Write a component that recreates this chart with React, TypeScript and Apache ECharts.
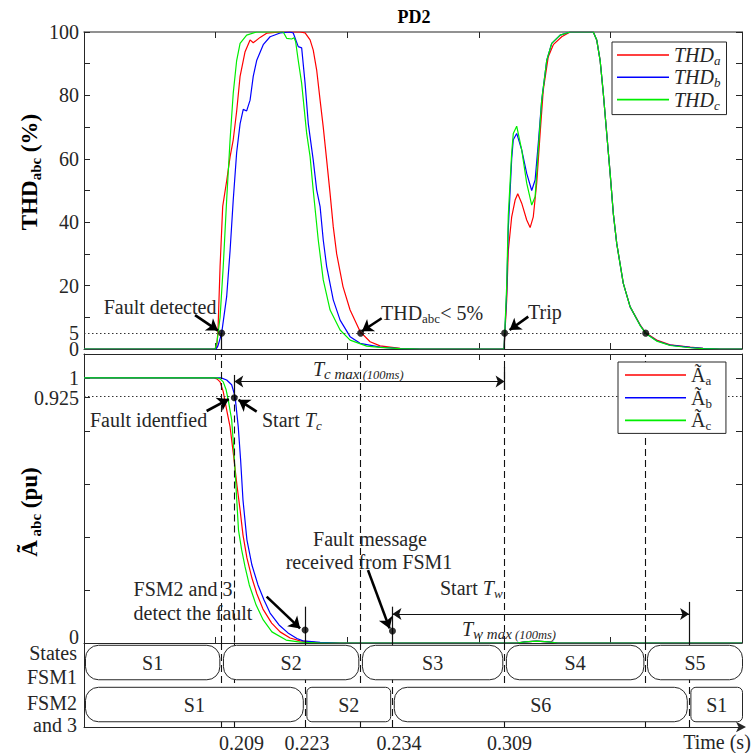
import React, { useEffect, useRef } from 'react';
import * as echarts from 'echarts';

type P = [number, number];

const FONT = '"Liberation Serif", "Times New Roman", Times, serif';
const INK = '#262626';

// drawing time axis (ms)
const timeMin = 150;
const timeMax = 400;
const timeStep = 50;

// THD (%) of the three phases
const thdA: P[] = [
  [150, 0], [199.4, 0], [200.4, 0.5], [200.9, 5.7], [201.7, 26], [202.7, 45], [204.2, 53], [205.5, 60.6],
  [206.7, 66], [208.0, 75], [209.3, 86], [211.2, 93.8], [213.1, 97.5], [214.3, 96.6], [216.9, 98.3],
  [219.4, 99.6], [224.5, 100], [232.1, 100], [234.0, 99.7], [235.9, 97.5], [237.1, 94.3], [238.4, 88],
  [239.7, 78.5], [240.9, 70], [242.2, 59.6], [243.5, 49], [244.7, 38.6], [246.0, 30], [248.4, 19.7],
  [251.1, 12.3], [254.9, 5.5], [258.7, 2.3], [262.5, 1.0], [270.1, 0.2], [277.7, 0], [309.6, 0],
  [310.6, 15.5], [311.2, 31], [312.5, 41.7], [313.8, 47], [314.8, 49], [316.3, 46], [318.2, 40.7],
  [319.5, 38.3], [320.7, 41.7], [322.0, 52.3], [323.3, 68], [324.5, 81.7], [326.4, 92.2], [328.3, 96],
  [331.5, 98.5], [334.7, 100], [343.5, 100], [344.8, 97.5], [346.1, 91], [347.3, 80.7], [348.6, 68],
  [349.9, 55.4], [351.1, 42.8], [352.4, 33.3], [354.9, 20.7], [357.5, 13.3], [361.3, 7.6], [363.4, 5.1],
  [367.6, 2.8], [372.7, 1.3], [380.3, 0.6], [385.2, 0.2], [391.7, 0], [400, 0],
];
const thdB: P[] = [
  [150, 0], [200.2, 0], [200.9, 1], [202.3, 5], [204.2, 16.5], [205.5, 31], [206.7, 47], [208.0, 62],
  [209.3, 71], [210.5, 75.6], [211.8, 75.1], [213.1, 78.5], [214.3, 86], [215.6, 91], [218.1, 96],
  [220.7, 98.5], [224.5, 99.7], [228.3, 100], [229.5, 99.7], [231.4, 95.4], [232.7, 95], [234.0, 83.8],
  [235.2, 71.2], [237.1, 59.6], [238.4, 50.2], [239.7, 44.9], [240.9, 34.4], [242.2, 26], [244.7, 15.5],
  [247.3, 9.1], [251.1, 3.9], [254.9, 1.8], [262.5, 0.6], [270.1, 0.1], [277.7, 0], [309.6, 0],
  [310.6, 18], [311.2, 38], [312.5, 60], [313.1, 66], [314.4, 68], [316.3, 62.8], [318.2, 55.4],
  [320.1, 50], [321.4, 53.3], [322.6, 64.9], [323.9, 78.5], [325.8, 91], [327.7, 96.4], [330.9, 99],
  [334.7, 100], [343.5, 100], [344.8, 97.5], [346.1, 91], [347.3, 80.7], [348.6, 68], [349.9, 55.4],
  [351.1, 42.8], [352.4, 33.3], [354.9, 20.7], [357.5, 13.3], [361.3, 7.5], [363.4, 5.0], [367.6, 2.6],
  [372.7, 1.2], [380.3, 0.5], [385.2, 0.2], [391.7, 0], [400, 0],
];
const thdC: P[] = [
  [150, 0], [199.8, 0], [200.5, 2], [201.7, 10], [202.9, 26], [204.2, 47], [205.5, 66], [206.7, 80.7],
  [208.0, 91], [209.3, 96.4], [211.8, 99], [215.6, 100], [225.7, 100], [227.0, 98], [228.9, 97.8],
  [229.8, 98.2], [230.4, 97], [231.4, 91], [232.7, 83.8], [234.6, 68], [235.9, 60.7], [237.1, 50],
  [239.0, 34.4], [240.9, 21.8], [243.5, 12.3], [247.3, 6], [251.1, 2.8], [257.4, 0.9], [262.5, 0.5],
  [270.1, 0.1], [277.7, 0], [309.6, 0], [310.6, 20], [311.2, 42], [312.5, 62], [313.1, 68], [314.4, 70.3],
  [316.3, 62.8], [318.2, 52.3], [320.1, 45.4], [321.4, 48], [322.6, 62.8], [323.9, 78.5], [325.8, 91],
  [327.7, 96.4], [330.9, 99], [334.7, 100], [343.5, 100], [344.8, 97.5], [346.1, 91], [347.3, 80.7],
  [348.6, 68], [349.9, 55.4], [351.1, 42.8], [352.4, 33.3], [354.9, 20.7], [357.5, 13.3], [361.3, 7.4],
  [363.4, 4.9], [367.6, 2.5], [372.7, 1.1], [380.3, 0.4], [385.2, 0.1], [391.7, 0], [400, 0],
];

// amplitude (pu) of the three phases
const ampA: P[] = [
  [150, 1], [199.4, 1], [200.5, 0.996], [201.7, 0.985], [202.9, 0.948], [204.2, 0.879], [205.5, 0.815],
  [206.8, 0.709], [208.1, 0.596], [209.3, 0.502], [210.4, 0.408], [211.9, 0.321], [213.8, 0.245],
  [215.7, 0.185], [218.0, 0.128], [221.3, 0.075], [224.5, 0.042], [228.3, 0.019], [232.1, 0.008],
  [237.8, 0.002], [247.3, 0], [314.4, 0], [317.6, 0.004], [322.0, 0.007], [326.4, 0.004], [330, 0], [400, 0],
];
const ampB: P[] = [
  [150, 1], [202.1, 1], [204.2, 0.992], [206.1, 0.974], [207.4, 0.929], [208.6, 0.816], [209.5, 0.691],
  [210.4, 0.540], [211.9, 0.389], [213.8, 0.294], [216.1, 0.219], [218.4, 0.162], [220.7, 0.113],
  [224.1, 0.068], [227.5, 0.038], [230.9, 0.017], [233.2, 0.008], [239.7, 0.002], [247.3, 0],
  [314.4, 0], [317.6, 0.004], [322.0, 0.007], [326.4, 0.004], [330, 0], [400, 0],
];
const ampC: P[] = [
  [150, 1], [200.5, 1], [201.7, 0.996], [202.9, 0.985], [204.0, 0.955], [204.8, 0.917], [206.1, 0.842],
  [206.8, 0.747], [207.6, 0.615], [208.7, 0.426], [209.9, 0.351], [211.2, 0.287], [212.8, 0.219],
  [215.4, 0.143], [218.1, 0.087], [221.4, 0.042], [226.8, 0.011], [232.1, 0.003], [239.7, 0],
  [314.4, 0], [317.6, 0.004], [322.0, 0.007], [326.4, 0.004], [330, 0], [400, 0],
];

const thdLabelValues = [0, 20, 40, 60, 80, 100];
const thdExtraLabelValues = [5];
const ampLabelValues = [0, 0.925, 1];
const ampTickValues = [0, 0.2, 0.4, 0.6, 0.8, 0.925, 1];
const ampRightTicks = [0, 0.2, 0.4, 0.6, 0.8, 1];
const thdThreshold = 5;
const ampThreshold = 0.925;

// event instants (ms on drawing axis)
const tFaultDetected = 202.3;
const tStartTc = 207.1;
const tFsm23Detect = 234.0;
const tThdLow = 255.1;
const tFaultMsg = 267.2;
const tTrip = 309.8;
const tThdLow2 = 363.4;
const tTwEnd = 379.9;

// bottom time labels
const timeLabelPos = [209.8, 234.7, 269.7, 311.7];
const timeLabelText = ['0.209', '0.223', '0.234', '0.309'];

// state machines
const fsm1Bounds = [150, tFaultDetected, tThdLow, tTrip, tThdLow2, 400];
const fsm1Labels = ['S1', 'S2', 'S3', 'S4', 'S5'];
const fsm2Bounds = [150, tFsm23Detect, tFaultMsg, tTwEnd, 400];
const fsm2Labels = ['S1', 'S2', 'S6', 'S1'];

// annotation levels
const tcArrowLevel = 0.986;
const twArrowLevel = 0.109;

function buildStates() {
  const data: number[][] = [];
  const labels: string[] = [];
  fsm1Labels.forEach((l, i) => { data.push([fsm1Bounds[i], fsm1Bounds[i + 1], 0]); labels.push(l); });
  fsm2Labels.forEach((l, i) => { data.push([fsm2Bounds[i], fsm2Bounds[i + 1], 1]); labels.push(l); });
  return { data, labels };
}

const axisLine = { show: true, onZero: false, lineStyle: { color: INK, width: 1 } };
const tickIn = { show: true, inside: true, length: 6, lineStyle: { color: INK, width: 1 } };
const labelFont = { fontFamily: FONT, fontSize: 20, color: INK };
const tightLabel = { fontFamily: FONT, fontSize: 20, color: INK, lineHeight: 12 };

function xAx(gridIndex: number, position: string, extra: any = {}) {
  return {
    gridIndex, type: 'value', min: timeMin, max: timeMax, interval: timeStep, position,
    axisLine, axisTick: tickIn, axisLabel: { show: false }, splitLine: { show: false }, ...extra,
  };
}

function ml(name: string, xi: number, yi: number, data: any[], lineStyle: any, extra: any = {}) {
  return {
    type: 'line', name, xAxisIndex: xi, yAxisIndex: yi, data: [], silent: true, z: 3,
    markLine: {
      silent: true, symbol: 'none', label: { show: false }, animation: false,
      emphasis: { disabled: true }, lineStyle, data, ...extra,
    },
  };
}

const dashed = { type: [7, 4], color: '#111', width: 1.1 };
const dotted = { type: [1.5, 2.5], color: '#333', width: 1 };
const solid = { type: 'solid', color: '#111', width: 1.2 };
const arrowThick = { type: 'solid', color: '#000', width: 2.6 };
const seg = (x: number, y1: number, y2: number) => [{ coord: [x, y1] }, { coord: [x, y2] }];
const arr = (x1: number, y1: number, x2: number, y2: number) => [{ coord: [x1, y1] }, { coord: [x2, y2] }];

function sub(size: number, extra: any = {}) {
  return { fontFamily: FONT, fontSize: size, fill: INK, verticalAlign: 'bottom', lineHeight: 10, ...extra };
}
function norm(size: number, extra: any = {}) {
  return { fontFamily: FONT, fontSize: size, fill: INK, lineHeight: 24, ...extra };
}

function txt(x: number, y: number, text: string, align = 'center', rich: any = null, extra: any = {}) {
  return {
    type: 'text', x, y, z: 50, silent: true, ...extra,
    style: {
      text, fill: INK, fontFamily: FONT, fontSize: 20,
      align, verticalAlign: 'middle', textAlign: align, textVerticalAlign: 'middle',
      ...(rich ? { rich } : {}),
    },
  };
}

export default function App() {
  const ref = useRef<HTMLDivElement>(null);
  useEffect(() => {
    if (!ref.current) return;
    const chart = echarts.init(ref.current, null, { renderer: 'svg' });
    const states = buildStates();
    const lineSeries = (name: string, data: P[], color: string, xi: number, yi: number) => ({
      type: 'line', name, data, xAxisIndex: xi, yAxisIndex: yi, symbol: 'none', showSymbol: false,
      lineStyle: { color, width: 1.2 }, itemStyle: { color }, z: 4, silent: true,
    });

    const option: any = {
      animation: false,
      backgroundColor: '#fff',
      grid: [
        { left: 84, right: 9, top: 32, height: 317, outerBoundsMode: 'none' },
        { left: 84, right: 9, top: 354, height: 289, outerBoundsMode: 'none' },
        { left: 84, right: 9, top: 643, height: 84, outerBoundsMode: 'none' },
      ],
      xAxis: [
        xAx(0, 'bottom'),
        xAx(0, 'top', { axisLine: { show: true, onZero: false, lineStyle: { color: '#6e6e6e', width: 1.5 } } }),
        xAx(1, 'bottom'),
        xAx(1, 'top'),
        {
          gridIndex: 2, type: 'value', min: timeMin, max: timeMax, position: 'bottom',
          axisLine: { show: true, onZero: false, symbol: ['none', 'arrow'], symbolSize: [8, 10], symbolOffset: [0, 4], lineStyle: { color: INK, width: 1 } },
          axisTick: { show: false }, splitLine: { show: false },
          axisLabel: {
            show: true, customValues: timeLabelPos, margin: 6, showMinLabel: true, showMaxLabel: true, ...labelFont,
            formatter: (v: number) => {
              let best = 0;
              timeLabelPos.forEach((p, i) => { if (Math.abs(p - v) < Math.abs(timeLabelPos[best] - v)) best = i; });
              return timeLabelText[best];
            },
          },
        },
      ],
      yAxis: [
        {
          gridIndex: 0, type: 'value', min: 0, max: 100, interval: 10, position: 'left',
          axisLine, axisTick: tickIn, splitLine: { show: false },
          axisLabel: {
            customValues: thdLabelValues, margin: 5, showMinLabel: true, showMaxLabel: true, ...labelFont,
          },
        },
        {
          gridIndex: 0, type: 'value', min: 0, max: 100, interval: 10, position: 'right',
          axisLine, axisTick: tickIn, splitLine: { show: false }, axisLabel: { show: false },
        },
        {
          gridIndex: 1, type: 'value', min: 0, max: 1.09, interval: 0.2, position: 'left',
          axisLine, axisTick: { ...tickIn, customValues: ampTickValues }, splitLine: { show: false },
          axisLabel: {
            customValues: ampLabelValues, margin: 5, showMinLabel: true, showMaxLabel: true, ...labelFont,
            formatter: (v: number) => (v === 0 ? '{z|0}' : `{a|${v}}`),
            rich: { a: tightLabel, z: { ...tightLabel, padding: [0, 0, 12, 0] } },
          },
        },
        {
          gridIndex: 1, type: 'value', min: 0, max: 1.09, interval: 0.2, position: 'right',
          axisLine, axisTick: { ...tickIn, customValues: ampRightTicks }, splitLine: { show: false }, axisLabel: { show: false },
        },
        {
          gridIndex: 2, type: 'category', data: ['FSM1', 'FSM2'], inverse: true, position: 'left',
          axisLine, axisTick: { show: false }, axisLabel: { show: false }, splitLine: { show: false },
        },
        {
          gridIndex: 0, type: 'value', min: 0, max: 100, position: 'left', offset: 0,
          axisLine: { show: false }, axisTick: { show: false }, splitLine: { show: false },
          axisLabel: { customValues: thdExtraLabelValues, margin: 5, showMinLabel: true, showMaxLabel: true, ...labelFont },
        },
      ],
      legend: [
        {
          data: ['THDa', 'THDb', 'THDc'], orient: 'vertical', left: 612, top: 42, icon: 'rect',
          itemWidth: 52, itemHeight: 1.6, itemGap: 0.3, padding: [3, 6, 3, 5],
          borderColor: INK, borderWidth: 1, borderRadius: 0, backgroundColor: '#fff', selectedMode: false, z: 20,
          formatter: (name: string) => `{i|THD}{s|${name.slice(3)}}`,
          textStyle: {
            rich: {
              i: { fontFamily: FONT, fontStyle: 'italic', fontSize: 20, color: INK, lineHeight: 24 },
              s: { fontFamily: FONT, fontStyle: 'italic', fontSize: 13, color: INK, lineHeight: 10, verticalAlign: 'bottom' },
            },
          },
        },
        {
          data: ['Aa', 'Ab', 'Ac'], orient: 'vertical', left: 618, top: 362, icon: 'rect',
          itemWidth: 61, itemHeight: 1.6, itemGap: 0.7, padding: [3, 14, 1, 7],
          borderColor: INK, borderWidth: 1, borderRadius: 0, backgroundColor: '#fff', selectedMode: false, z: 20,
          formatter: (name: string) => `{i|Ã}{s|${name.slice(1)}}`,
          textStyle: {
            rich: {
              i: { fontFamily: FONT, fontSize: 20, color: INK, lineHeight: 24 },
              s: { fontFamily: FONT, fontSize: 13, color: INK, lineHeight: 10, verticalAlign: 'bottom' },
            },
          },
        },
      ],
      series: [
        // guide lines top plot
        ml('thdDotted', 0, 0, [{ yAxis: thdThreshold }], dotted),
        ml('thdDrops', 0, 0, [seg(tFaultDetected, thdThreshold, 0), seg(tTrip, thdThreshold, 0)], solid),
        // guide lines bottom plot
        ml('ampDotted', 2, 2, [{ yAxis: ampThreshold }], dotted),
        ml('ampDashed', 2, 2, [
          { xAxis: tFaultDetected }, { xAxis: tThdLow }, { xAxis: tTrip }, { xAxis: tThdLow2 },
          seg(tStartTc, 0.9, 0),
        ], dashed),
        ml('ampBars', 2, 2, [
          seg(tStartTc, 1.011, 0.915), seg(tTrip, 1.042, 0.955),
          seg(tFsm23Detect, 0.137, 0), seg(tFaultMsg, 0.137, 0), seg(tTwEnd, 0.155, 0),
        ], solid),
        ml('spans', 2, 2, [
          arr(tStartTc, tcArrowLevel, tTrip, tcArrowLevel),
          arr(tFaultMsg, twArrowLevel, tTwEnd, twArrowLevel),
        ], { type: 'solid', color: '#111', width: 1.2 }, { symbol: ['arrow', 'arrow'], symbolSize: 9 }),
        // states dashed
        ml('stateDashed', 4, 4, [
          { xAxis: tFaultDetected }, { xAxis: tStartTc }, { xAxis: tFsm23Detect }, { xAxis: tThdLow },
          { xAxis: tFaultMsg }, { xAxis: tTrip }, { xAxis: tThdLow2 }, { xAxis: tTwEnd },
        ], dashed),
        // curves
        lineSeries('THDa', thdA, '#ff0000', 0, 0),
        lineSeries('THDb', thdB, '#0000ff', 0, 0),
        lineSeries('THDc', thdC, '#00ee00', 0, 0),
        lineSeries('Aa', ampA, '#ff0000', 2, 2),
        lineSeries('Ab', ampB, '#0000ff', 2, 2),
        lineSeries('Ac', ampC, '#00ee00', 2, 2),
        // annotation arrows
        {
          ...ml('thdArrows', 0, 0, [
            arr(192.2, 10.7, 200.9, 5.8), arr(263.1, 9.7, 255.6, 5.6), arr(318.8, 10.2, 311.7, 6.0),
          ], arrowThick, { symbol: ['none', 'arrow'], symbolSize: 11 }), z: 6,
        },
        {
          ...ml('ampArrows', 2, 2, [
            arr(196.6, 0.875, 205.0, 0.92), arr(215.6, 0.873, 208.7, 0.917),
            arr(219.4, 0.175, 232.1, 0.055), arr(257.9, 0.275, 266.1, 0.055),
          ], arrowThick, { symbol: ['none', 'arrow'], symbolSize: 11 }), z: 6,
        },
        // dots
        {
          type: 'scatter', name: 'thdDots', xAxisIndex: 0, yAxisIndex: 0, symbolSize: 7, z: 7, silent: true,
          itemStyle: { color: '#000' },
          data: [[tFaultDetected, thdThreshold], [tThdLow, thdThreshold], [tTrip, thdThreshold], [tThdLow2, thdThreshold]],
        },
        {
          type: 'scatter', name: 'ampDots', xAxisIndex: 2, yAxisIndex: 2, symbolSize: 7, z: 7, silent: true,
          itemStyle: { color: '#000' },
          data: [[tStartTc, ampThreshold], [tFsm23Detect, 0.049], [tFaultMsg, 0.045]],
        },
        // state boxes
        {
          type: 'custom', name: 'states', xAxisIndex: 4, yAxisIndex: 4, z: 10, silent: true,
          data: states.data, encode: { x: [0, 1], y: 2 },
          renderItem: (params: any, api: any) => {
            const s = api.value(0), e = api.value(1), row = api.value(2);
            const a = api.coord([s, row]);
            const b = api.coord([e, row]);
            const band = api.size([0, 1])[1];
            const x0 = a[0] + (s <= timeMin ? 1.5 : 1.8);
            const x1 = b[0] - (e >= timeMax ? -0.5 : 1.8);
            const h = band * 0.82;
            const cy = a[1] - band * 0.035;
            const w = x1 - x0;
            const r = w < 90 ? 5 : 13;
            return {
              type: 'group',
              children: [
                { type: 'rect', shape: { x: x0, y: cy - h / 2, width: w, height: h, r }, style: { fill: '#fff', stroke: INK, lineWidth: 1 } },
                {
                  type: 'text', x: (x0 + x1) / 2, y: cy,
                  style: { text: states.labels[params.dataIndex], fontFamily: FONT, fontSize: 20, fill: INK, align: 'center', verticalAlign: 'middle' },
                },
              ],
            };
          },
        },
      ],
      graphic: [
        txt(414, 17, '{b|PD2}', 'center', { b: norm(18, { fontWeight: 'bold', fill: '#000' }) }),
        txt(160, 307, 'Fault detected'),
        txt(381, 313, '{n|THD}{s|abc}{n|< 5%}', 'left', { n: norm(20), s: sub(13) }),
        txt(528, 312, 'Trip', 'left'),
        txt(313, 369, '{t|T}{s|c max}{p| (100ms)}', 'left', {
          t: norm(20, { fontStyle: 'italic' }), s: sub(15, { fontStyle: 'italic', lineHeight: 12 }), p: sub(12.5, { fontStyle: 'italic', lineHeight: 12 }),
        }),
        txt(90, 420, 'Fault identfied', 'left'),
        txt(262, 420, '{n|Start }{t|T}{s|c}', 'left', { n: norm(20), t: norm(20, { fontStyle: 'italic' }), s: sub(13, { fontStyle: 'italic' }) }),
        txt(183, 589, 'FSM2 and 3'),
        txt(193, 613, 'detect the fault'),
        txt(370, 539, 'Fault message'),
        txt(369, 562, 'received from FSM1'),
        txt(440, 588, '{n|Start }{t|T}{s|w}', 'left', { n: norm(20), t: norm(20, { fontStyle: 'italic' }), s: sub(13, { fontStyle: 'italic' }) }),
        txt(462, 629, '{t|T}{s|w max}{p| (100ms)}', 'left', {
          t: norm(20, { fontStyle: 'italic' }), s: sub(15, { fontStyle: 'italic', lineHeight: 12 }), p: sub(12.5, { fontStyle: 'italic', lineHeight: 12 }),
        }),
        txt(77, 653, 'States', 'right'),
        txt(77, 677, 'FSM1', 'right'),
        txt(77, 703, 'FSM2', 'right'),
        txt(77, 725, 'and 3', 'right'),
        txt(717, 742, 'Time (s)'),
        txt(29, 172, '{b|THD}{s|abc}{b| (%)}', 'center', {
          b: norm(23, { fontWeight: 'bold', fill: '#000', lineHeight: 28 }), s: sub(15, { fontWeight: 'bold', fill: '#000', lineHeight: 12 }),
        }, { rotation: Math.PI / 2 }),
        txt(29, 512, '{b|Ã}{s| abc}{b| (pu)}', 'center', {
          b: norm(23, { fontWeight: 'bold', fill: '#000', lineHeight: 28 }), s: sub(15, { fontWeight: 'bold', fill: '#000', lineHeight: 12 }),
        }, { rotation: Math.PI / 2 }),
      ],
    };
    chart.setOption(option);
    return () => chart.dispose();
  }, []);
  return <div ref={ref} style={{ position: 'fixed', left: 0, top: 0, width: 751, height: 753, background: '#fff' }} />;
}
